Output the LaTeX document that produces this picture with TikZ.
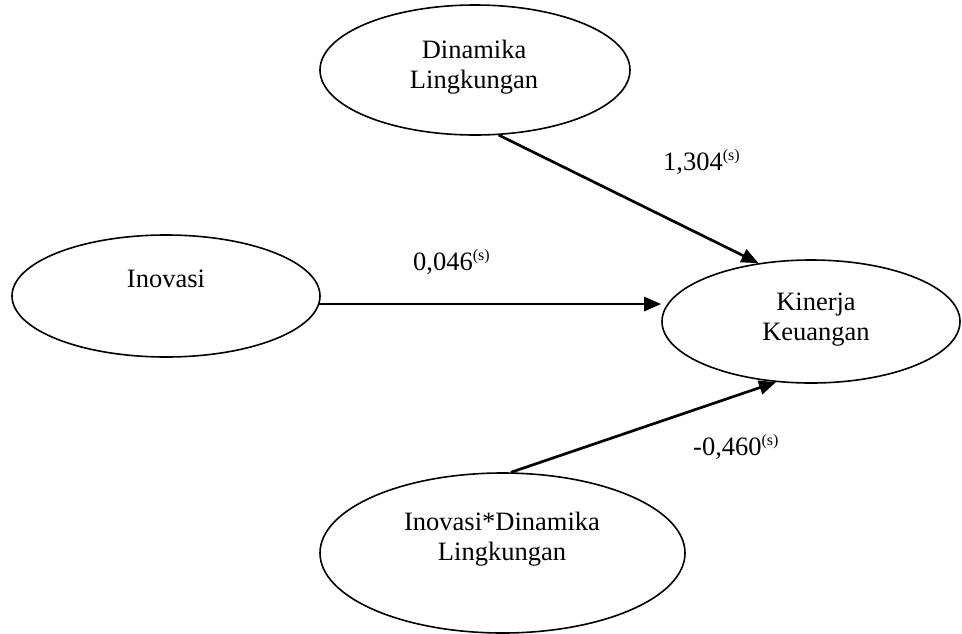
\documentclass[tikz,border=0pt]{standalone}
\usepackage{fontspec}
\setmainfont{Liberation Serif}
\usepackage{tikz}
\usetikzlibrary{shapes.geometric}
\usetikzlibrary{arrows.meta}
\newcommand{\SigMark}{\raisebox{10pt}{\fontsize{16}{16}\selectfont(s)}}
\tikzstyle{NodeVar}=[ellipse,draw=black,line width=1.6pt,inner sep=0pt]
\tikzstyle{TextVar}=[align=center,anchor=base,inner sep=0pt,font=\fontsize{26.5}{30}\selectfont]
\tikzstyle{TextCoef}=[anchor=base west,inner sep=0pt,font=\fontsize{26.5}{30}\selectfont]
\tikzstyle{EdgePath}=[line width=2.7pt,-{Triangle[length=17pt,width=14pt]}]

\begin{document}
\begin{tikzpicture}[x=1pt,y=-1pt]
        \useasboundingbox(0,0)rectangle(962,633);
        % variables
        \node[NodeVar,minimum width=310,minimum height=130](din)at(475,70){};
        \node[NodeVar,minimum width=308,minimum height=122](ino)at(166,296){};
        \node[NodeVar,minimum width=298,minimum height=123](kin)at(811,321.5){};
        \node[NodeVar,minimum width=365,minimum height=160](mod)at(502.5,553){};
        \node[TextVar](tdin)at(474,88){Dinamika\\Lingkungan};
        \node[TextVar](tino)at(166,287){Inovasi};
        \node[TextVar](tkin)at(816,340){Kinerja\\Keuangan};
        \node[TextVar](tmod)at(502,560){Inovasi*Dinamika\\Lingkungan};
        % paths
        \draw[EdgePath](din.-70.5)--(kin.132.3);
        \draw[EdgePath](ino.-3.4)--(ino.-3.4 -| kin.west);
        \draw[EdgePath](mod.84.7)--(kin.240);
        \node[TextCoef](cdin)at(663,170){1,304\SigMark};
        \node[TextCoef](cino)at(413,270){0,046\SigMark};
        \node[TextCoef](cmod)at(693,455){-0,460\SigMark};
    \end{tikzpicture}
\end{document}
